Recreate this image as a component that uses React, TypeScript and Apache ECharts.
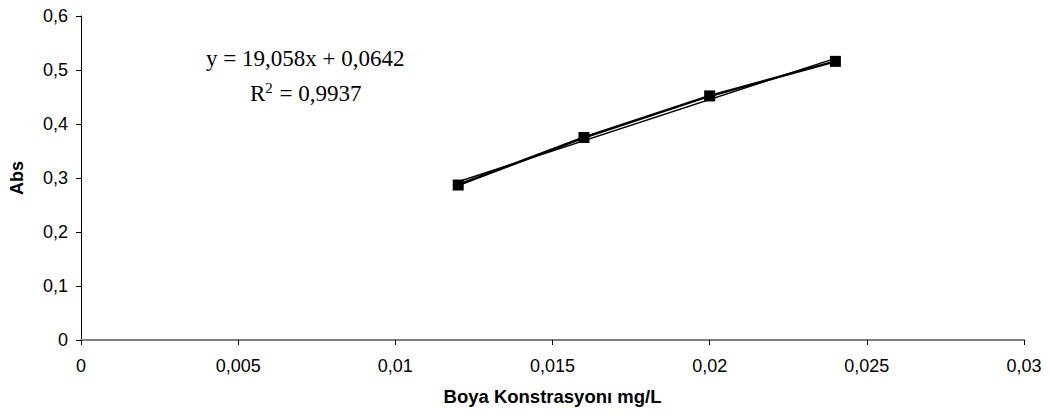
import React, { useEffect, useRef } from "react";
import * as echarts from "echarts";

const concentrations = [0.012, 0.016, 0.02, 0.024];
const absorbance = [0.287, 0.375, 0.452, 0.516];
const slope = 19.058;
const intercept = 0.0642;
const equationText = "y = 19,058x + 0,0642";
const r2Value = "0,9937";
const xTitle = "Boya Konstrasyonı mg/L";
const yTitle = "Abs";

const fmt = (v: number) => String(Number(v.toFixed(4))).replace(".", ",");

export default function App() {
  const ref = useRef<HTMLDivElement>(null);
  useEffect(() => {
    if (!ref.current) return;
    const chart = echarts.init(ref.current, null, { renderer: "svg" });
    const xs = [concentrations[0], concentrations[concentrations.length - 1]];
    const trend = xs.map((x) => [x, slope * x + intercept]);
    const labelFont = { fontFamily: "Liberation Sans", fontSize: 18, color: "#000" };
    chart.setOption({
      animation: false,
      backgroundColor: "#ffffff",
      grid: { left: 81, right: 26, top: 16, bottom: 79 },
      xAxis: {
        type: "value",
        min: 0,
        max: 0.03,
        interval: 0.005,
        name: xTitle,
        nameLocation: "middle",
        nameGap: 47,
        nameTextStyle: { fontFamily: "Liberation Sans", fontWeight: "bold", fontSize: 18.5, color: "#000" },
        axisLine: { show: true, lineStyle: { color: "#808080", width: 2 } },
        axisTick: { show: true, length: 5, lineStyle: { color: "#000" } },
        axisLabel: { formatter: fmt, ...labelFont, margin: 17 },
        splitLine: { show: false },
      },
      yAxis: {
        type: "value",
        min: 0,
        max: 0.6,
        interval: 0.1,
        name: yTitle,
        nameLocation: "middle",
        nameGap: 55,
        nameRotate: 90,
        nameTextStyle: { fontFamily: "Liberation Sans", fontWeight: "bold", fontSize: 18, color: "#000" },
        axisLine: { show: true, lineStyle: { color: "#000", width: 1 } },
        axisTick: { show: true, length: 5, lineStyle: { color: "#000" } },
        axisLabel: { formatter: fmt, ...labelFont, margin: 13 },
        splitLine: { show: false },
      },
      series: [
        {
          type: "line",
          data: concentrations.map((x, i) => [x, absorbance[i]]),
          symbol: "rect",
          symbolSize: 11,
          itemStyle: { color: "#000" },
          lineStyle: { color: "#000", width: 2.5 },
          z: 3,
        },
        {
          type: "line",
          data: trend,
          symbol: "none",
          lineStyle: { color: "#000", width: 1.5 },
          z: 2,
        },
      ],
      graphic: [
        {
          type: "text",
          x: 206,
          y: 58,
          style: { text: equationText, font: "23px 'Liberation Serif'", fill: "#000", verticalAlign: "middle" },
        },
        {
          type: "text",
          x: 250,
          y: 93,
          style: {
            text: "R{sup|2} = " + r2Value,
            font: "23px 'Liberation Serif'",
            fill: "#000",
            verticalAlign: "middle",
            rich: {
              sup: { fontSize: 15, fontFamily: "Liberation Serif", verticalAlign: "top", padding: [0, 1, 10, 0] },
            },
          },
        },
      ],
    });
    return () => chart.dispose();
  }, []);
  return <div ref={ref} style={{ width: 1050, height: 419, position: "absolute", left: 0, top: 0 }} />;
}
